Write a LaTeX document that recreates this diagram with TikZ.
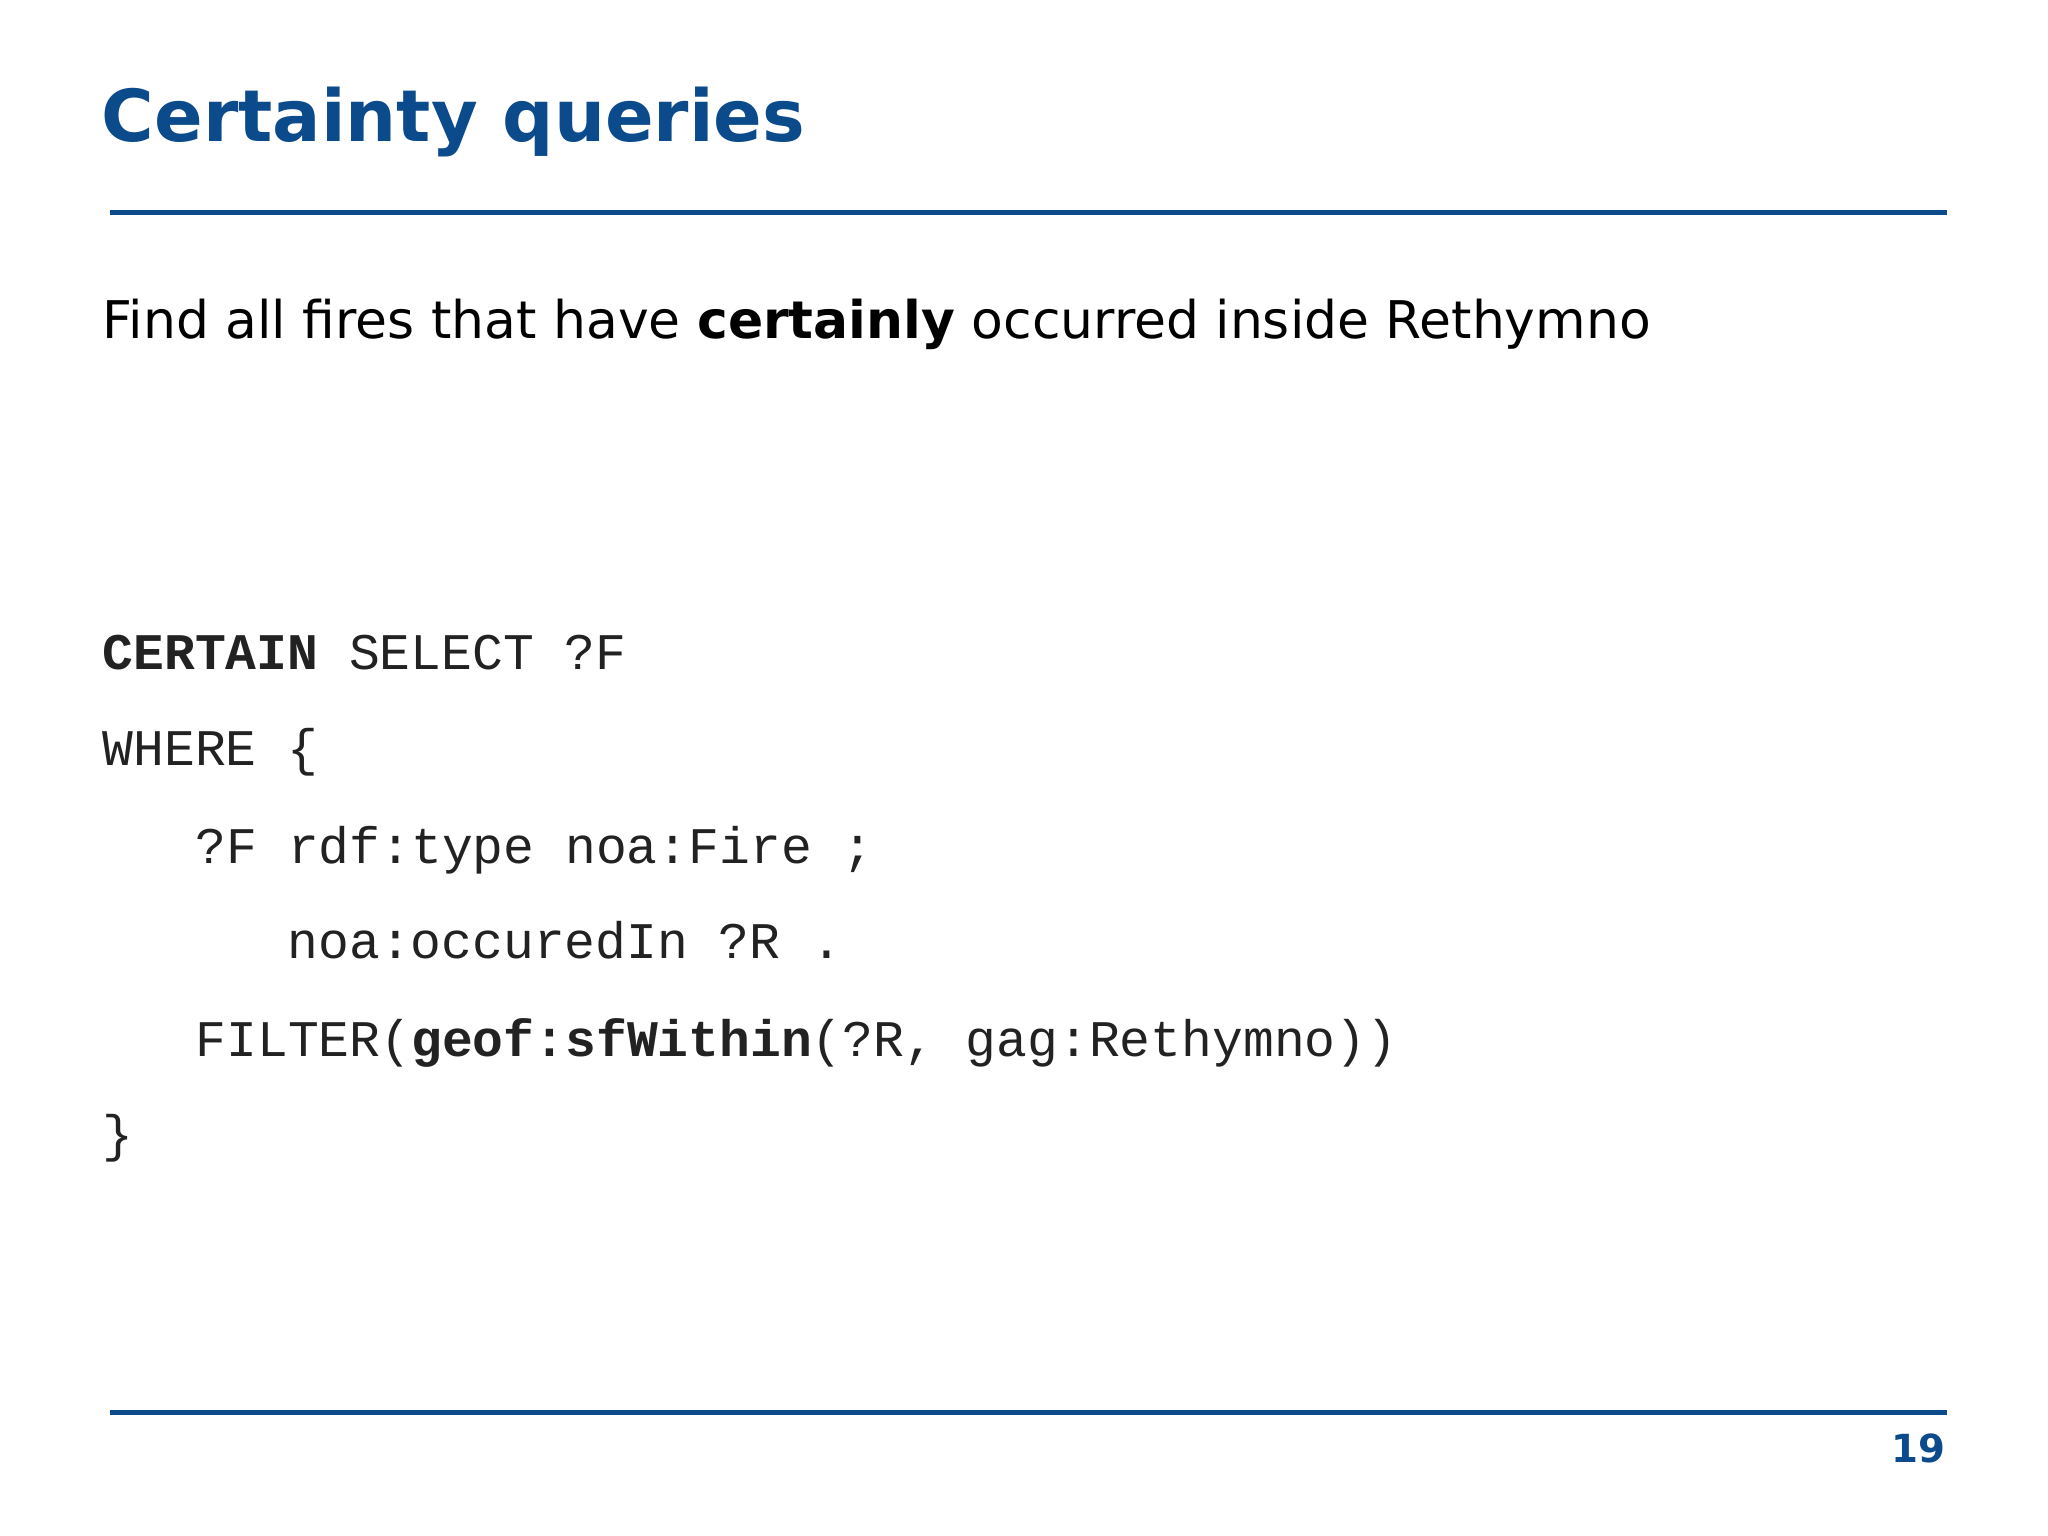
\documentclass[tikz,border=0pt]{standalone}
\usepackage{fontspec}
\setmainfont{DejaVu Sans}
\newfontfamily\codefont{Liberation Mono}
\definecolor{slideblue}{HTML}{0B4A8B}
\definecolor{codegray}{HTML}{222222}
\begin{document}
\begin{tikzpicture}[x=0.01cm,y=-0.01cm,
  codeline/.style={anchor=base west,inner sep=0pt,font=\codefont\fontsize{14.6pt}{16pt}\selectfont,text=codegray},
  rulestyle/.style={slideblue,line width=0.05cm}]
\useasboundingbox[fill=white] (0,0) rectangle (2048,1536);
\node[anchor=base west,inner sep=0pt,text=slideblue,font=\bfseries\fontsize{20.4pt}{25pt}\selectfont] (title) at (101,141) {Certainty queries};
\coordinate (r1a) at (110,212); \coordinate (r1b) at (1947,212);
\draw[rulestyle] (r1a) -- (r1b);
\node[anchor=base west,inner sep=0pt,text=black,font=\fontsize{14.77pt}{18pt}\selectfont] (sub) at (102,338) {Find all fires that have \textbf{certainly} occurred inside Rethymno};
\node[codeline] (c1) at (102,669) {\textbf{CERTAIN} SELECT ?F};
\node[codeline] (c2) at (102,765) {WHERE \{};
\node[codeline] (c3) at (195,863) {?F rdf:type noa:Fire ;};
\node[codeline] (c4) at (287,958) {noa:occuredIn ?R .};
\node[codeline] (c5) at (195,1056) {FILTER(\textbf{geof:sfWithin}(?R, gag:Rethymno))};
\node[codeline] (c6) at (102,1151) {\}};
\coordinate (r2a) at (110,1412); \coordinate (r2b) at (1947,1412);
\draw[rulestyle] (r2a) -- (r2b);
\node[anchor=east,inner sep=0pt,text=slideblue,font=\bfseries\fontsize{11pt}{13pt}\selectfont] (num) at (1946,1448) {19};
\end{tikzpicture}
\end{document}
